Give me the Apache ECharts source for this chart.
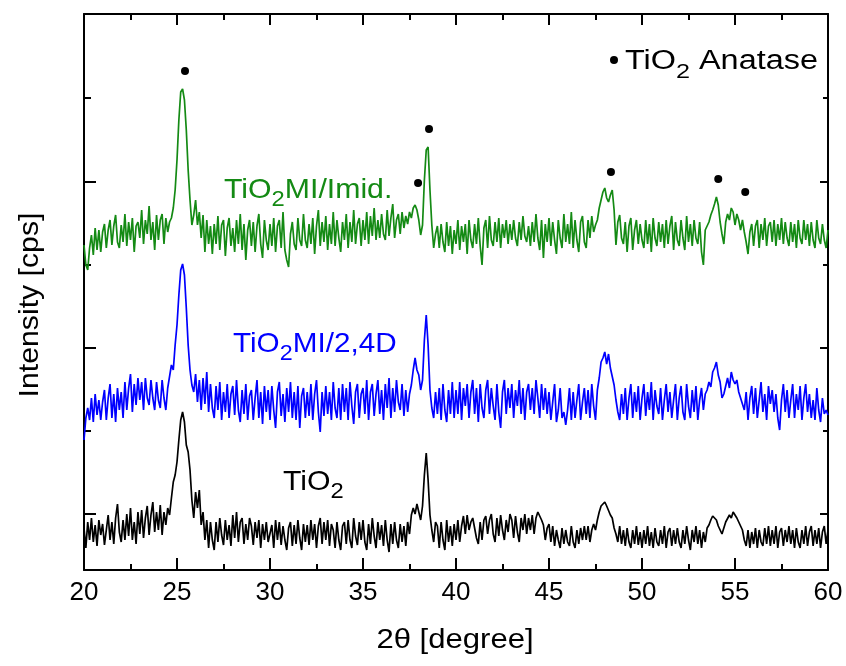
<!DOCTYPE html>
<html><head><meta charset="utf-8">
<script src="https://cdn.jsdelivr.net/npm/echarts@6/dist/echarts.min.js"></script>
<style>html,body{margin:0;padding:0;background:#fff}#c{width:846px;height:666px}</style>
</head><body><div id="c"></div>
<script>
// 2θ sampling grid (degrees)
const angleStart = 20, angleStep = 0.1;

// Intensity (a.u., offset stacked) – TiO2MI/Imid. (green)
const tio2Imid = [
325,305,300,322,335,315,342,320,340,318,
338,346,322,340,350,325,344,355,328,322,
345,328,356,324,348,330,352,318,344,348,
332,360,326,350,336,364,330,348,320,355,
330,350,356,326,352,338,348,352,362,380,
410,450,478,481,470,440,400,370,345,355,
370,345,358,332,355,318,350,326,344,316,
346,326,354,320,345,350,314,342,352,324,
342,318,350,326,356,320,346,310,340,350,
324,348,318,344,356,326,312,350,330,320,
346,324,352,318,344,350,322,358,320,310,
303,336,348,326,320,352,330,324,356,330,
322,346,326,352,316,344,360,324,348,328,
354,320,346,326,358,324,350,332,318,348,
330,356,322,348,328,360,326,346,352,324,
350,330,358,326,354,334,362,330,350,332,
356,336,330,360,334,352,366,332,350,356,
336,358,342,354,346,358,352,362,365,360,
350,335,345,390,420,423,380,345,322,336,
344,322,346,328,318,348,324,344,316,340,
326,350,320,344,328,346,316,350,330,322,
346,326,352,324,305,342,350,322,354,330,
324,348,328,352,322,346,332,350,326,346,
330,350,332,324,348,330,354,334,328,344,
324,348,328,356,332,320,350,312,346,328,
352,324,348,330,316,350,332,322,356,328,
346,326,358,322,350,330,318,348,354,328,
322,350,332,354,338,345,350,362,370,378,
382,372,368,375,380,360,325,348,355,332,
326,348,318,344,352,320,340,350,326,346,
330,322,350,326,346,318,352,332,324,348,
328,346,322,350,326,344,354,320,348,330,
324,350,332,320,354,328,346,324,350,332,
326,348,318,305,340,344,348,355,360,366,
373,365,348,336,326,348,356,350,362,358,
345,356,350,340,350,338,328,316,338,346,
324,344,350,322,346,330,352,324,344,348,
328,350,324,346,330,352,326,348,332,324,
348,328,346,322,350,332,326,350,330,346,
324,348,330,322,350,332,326,346,330,322,
340];

// TiO2MI/2,4D (blue)
const tio2Mi24d = [
130,152,162,150,172,148,176,155,170,150,
168,180,150,172,186,152,176,148,182,160,
178,152,188,160,182,196,158,186,165,192,
170,188,160,192,172,165,190,172,160,188,
170,162,190,172,160,182,180,205,200,225,
245,275,300,306,295,262,225,200,185,178,
196,168,190,160,192,166,198,158,186,162,
152,184,160,188,150,178,158,186,152,176,
184,155,190,160,148,180,156,186,150,174,
180,150,172,190,152,178,146,184,158,180,
150,184,160,142,178,188,154,176,148,182,
158,188,152,178,150,184,142,174,182,152,
178,154,186,150,176,190,158,138,178,154,
184,156,178,150,188,162,152,182,150,186,
158,182,150,188,164,146,178,186,152,176,
182,156,190,150,178,186,154,176,190,156,
180,150,186,162,192,152,182,158,190,168,
160,186,154,180,158,176,185,200,212,200,
195,180,190,230,255,225,180,162,152,178,
156,182,150,186,160,148,180,156,188,152,
180,156,188,150,182,164,186,152,178,190,
156,182,148,186,162,152,180,190,156,182,
164,150,186,158,142,178,190,156,182,162,
186,152,180,164,190,156,182,150,178,186,
160,182,156,190,172,152,186,160,182,156,
178,150,168,186,148,160,182,152,158,145,
160,182,150,178,152,170,186,150,168,182,
156,180,152,186,164,150,180,192,208,212,
218,206,216,202,204,185,170,158,150,176,
156,182,150,172,186,152,178,158,184,150,
172,186,154,178,160,188,150,180,164,156,
182,150,170,186,158,178,152,170,186,150,
172,184,158,150,186,164,152,180,158,184,
150,170,182,160,176,180,188,183,198,202,
208,195,188,172,176,184,192,182,198,190,
186,190,178,180,166,160,178,150,172,184,
156,182,152,170,188,158,176,150,184,166,
180,158,176,152,140,170,186,158,180,152,
170,186,152,176,160,184,150,172,186,158,
176,152,170,150,182,160,148,172,156,160,
155];

// TiO2 (black)
const tio2 = [
42,22,48,30,52,28,45,24,50,35,
46,25,40,55,30,48,26,52,66,38,
28,50,30,56,34,62,30,48,26,58,
36,60,32,52,64,35,55,68,38,58,
40,65,35,58,45,62,55,72,88,95,
108,130,150,158,148,125,118,100,70,52,
78,62,80,45,58,30,50,22,48,30,
20,48,28,52,35,25,50,30,45,24,
55,32,58,28,48,52,26,46,30,52,
44,25,48,32,50,22,46,30,48,28,
26,45,22,50,30,48,25,44,30,20,
42,48,24,45,26,50,32,20,46,28,
45,25,50,30,46,22,44,52,26,48,
30,50,24,46,40,22,48,30,20,44,
48,26,50,30,22,52,34,25,48,30,
50,28,20,46,26,52,34,22,48,30,
45,24,50,30,18,46,26,48,30,22,
46,28,44,24,48,36,55,62,56,66,
58,50,64,95,117,90,55,40,28,48,
44,22,48,30,20,50,28,44,24,46,
30,50,28,44,54,36,55,40,48,52,
50,32,26,48,30,50,54,36,50,56,
36,28,52,34,55,40,30,50,38,56,
50,32,54,38,28,52,40,56,36,52,
40,55,36,52,58,60,50,45,30,42,
46,28,44,24,40,30,22,42,26,40,
28,24,44,28,22,40,26,42,30,44,
30,44,28,40,46,40,50,58,64,66,
68,64,66,55,52,42,36,28,44,26,
40,24,42,28,22,40,26,44,25,38,
22,40,26,44,24,38,22,42,28,24,
40,26,44,22,38,42,24,40,26,42,
28,22,40,26,44,30,20,40,28,44,
26,40,22,38,28,42,45,50,54,52,
50,44,46,36,34,48,46,55,52,58,
56,52,54,44,40,30,24,40,22,38,
26,42,22,40,28,24,42,26,44,24,
40,26,44,22,38,42,24,40,28,44,
26,40,22,42,28,22,40,26,44,24,
38,44,24,40,26,42,22,38,44,26,
40];

// Anatase reflection markers [2θ, intensity]
const anatasePeaks = [[25.43,499],[37.96,387],[38.55,441],[48.33,398],[54.1,391],[55.55,378]];

// axis ticks
const xMin = 20, xMax = 60, xInterval = 5;
const yMin = 0, yMax = 556;
const yMajorTicks = [56, 222, 388];
const yMinorTicks = [139, 305, 472];

const FONT = "'Liberation Sans', Arial, sans-serif";
const GREEN = '#148a14', BLUE = '#0000ff', BLACK = '#000000';

function toPairs(arr) { return arr.map((v, i) => [+(angleStart + i * angleStep).toFixed(1), v]); }

function yAx(pos, vals, len, showLine) {
  return {
    type: 'value', position: pos, min: yMin, max: yMax,
    axisLine: { show: showLine, lineStyle: { color: '#000', width: 2 } },
    axisTick: { show: true, inside: true, length: len, customValues: vals, lineStyle: { color: '#000', width: 2 } },
    axisLabel: { show: false }, splitLine: { show: false }
  };
}
function xAx(pos, majorLen, minorLen) {
  return {
    type: 'value', position: pos, min: xMin, max: xMax, interval: xInterval,
    axisLine: { show: true, onZero: false, lineStyle: { color: '#000', width: 2 } },
    axisTick: { show: true, inside: true, length: majorLen, lineStyle: { color: '#000', width: 2 } },
    minorTick: { show: true, splitNumber: 2, length: minorLen, lineStyle: { color: '#000', width: 2 } },
    axisLabel: pos === 'bottom' ? { show: true, fontSize: 26, color: '#000', fontFamily: FONT, margin: 10 } : { show: false },
    splitLine: { show: false }, minorSplitLine: { show: false }
  };
}

function sub(main, subTxt, rest) { return '{a|' + main + '}{s|' + subTxt + '}{a|' + rest + '}'; }
function richFor(color, size, subSize, drop) {
  return {
    a: { fontSize: size, fontFamily: FONT, fill: color },
    s: { fontSize: subSize, fontFamily: FONT, fill: color, padding: [drop, 0, 0, 0] }
  };
}

const chart = echarts.init(document.getElementById('c'), null, { renderer: 'canvas' });
chart.setOption({
  animation: false,
  backgroundColor: '#fff',
  grid: { left: 84, right: 18, top: 14, bottom: 96 },
  xAxis: [xAx('bottom', 12, 6), xAx('top', 11, 6)],
  yAxis: [yAx('left', yMajorTicks, 12, true), yAx('left', yMinorTicks, 7, false),
          yAx('right', yMajorTicks, 8, true), yAx('right', yMinorTicks, 5, false)],
  series: [
    { type: 'line', data: toPairs(tio2), showSymbol: false, lineStyle: { color: BLACK, width: 1.7 }, xAxisIndex: 0, yAxisIndex: 0 },
    { type: 'line', data: toPairs(tio2Mi24d), showSymbol: false, lineStyle: { color: BLUE, width: 1.7 }, xAxisIndex: 0, yAxisIndex: 0 },
    { type: 'line', data: toPairs(tio2Imid), showSymbol: false, lineStyle: { color: GREEN, width: 1.7 }, xAxisIndex: 0, yAxisIndex: 0 },
    { type: 'scatter', data: anatasePeaks, symbol: 'circle', symbolSize: 8, itemStyle: { color: '#000', opacity: 1 }, xAxisIndex: 0, yAxisIndex: 0 }
  ],
  graphic: [
    { type: 'text', x: 30, y: 305, rotation: Math.PI / 2, scaleX: 1.08,
      style: { text: 'Intensity [cps]', font: '28px ' + FONT, fill: '#000', align: 'center', verticalAlign: 'middle' } },
    { type: 'text', x: 455, y: 641, scaleX: 1.15,
      style: { text: '2θ [degree]', font: '27px ' + FONT, fill: '#000', align: 'center', verticalAlign: 'middle' } },
    { type: 'text', x: 224, y: 190, scaleX: 1.08,
      style: { text: sub('TiO', '2', 'MI/Imid.'), rich: richFor(GREEN, 28, 22, 20), align: 'left', verticalAlign: 'middle' } },
    { type: 'text', x: 233, y: 344, scaleX: 1.06,
      style: { text: sub('TiO', '2', 'MI/2,4D'), rich: richFor(BLUE, 28, 22, 20), align: 'left', verticalAlign: 'middle' } },
    { type: 'text', x: 283, y: 482, scaleX: 1.08,
      style: { text: sub('TiO', '2', ''), rich: richFor(BLACK, 28, 22, 20), align: 'left', verticalAlign: 'middle' } },
    { type: 'circle', shape: { cx: 614, cy: 60, r: 4 }, style: { fill: '#000' } },
    { type: 'text', x: 625, y: 62, scaleX: 1.2,
      style: { text: sub('TiO', '2', ' Anatase'), rich: richFor(BLACK, 27, 21, 20), align: 'left', verticalAlign: 'middle' } }
  ]
});
</script></body></html>
